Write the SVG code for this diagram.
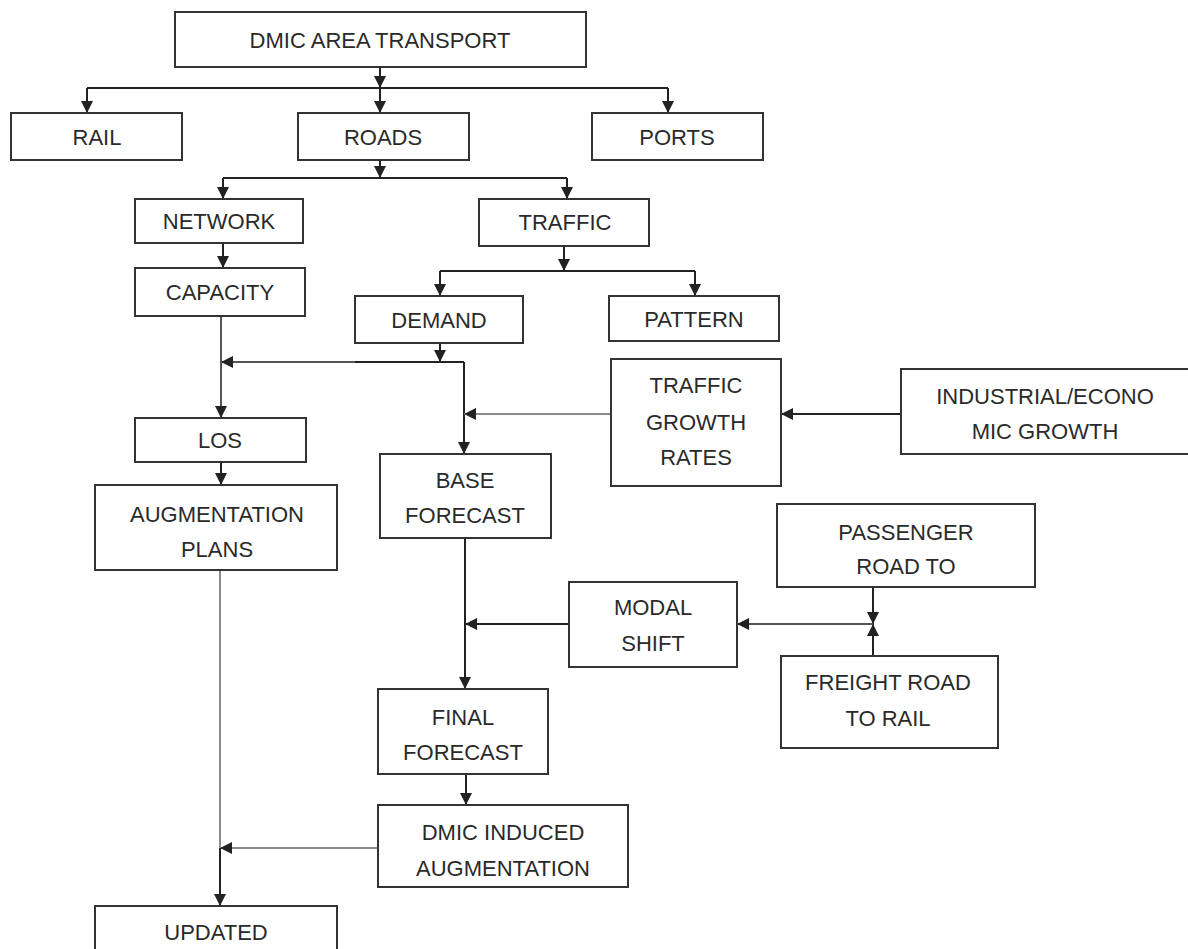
<svg xmlns="http://www.w3.org/2000/svg" width="1188" height="949" viewBox="0 0 1188 949">
<defs>
<marker id="ah" viewBox="0 0 12 12" refX="12" refY="6" markerWidth="12" markerHeight="12" markerUnits="userSpaceOnUse" orient="auto">
<path d="M0,0 L12,6 L0,12 Z" fill="#222"/>
</marker>
</defs>
<style>
.box{fill:#fff;stroke:#333;stroke-width:2}
.t{font-family:"Liberation Sans",Arial,sans-serif;font-size:22px;fill:#2a2a2a;text-anchor:middle}
.c{fill:none;stroke:#222;stroke-width:2}
.g{fill:none;stroke:#8a8a8a;stroke-width:2}
.m{fill:none;stroke:#555;stroke-width:2}
</style>
<rect width="1188" height="949" fill="#fff"/>
<g id="connectors">
<path class="c" d="M380,67 V88" marker-end="url(#ah)"/>
<path class="c" d="M87,88 H668"/>
<path class="c" d="M87,88 V113" marker-end="url(#ah)"/>
<path class="c" d="M380,88 V113" marker-end="url(#ah)"/>
<path class="c" d="M668,88 V113" marker-end="url(#ah)"/>
<path class="c" d="M380,160 V178" marker-end="url(#ah)"/>
<path class="c" d="M223,178 H567"/>
<path class="c" d="M223,178 V199" marker-end="url(#ah)"/>
<path class="c" d="M567,178 V199" marker-end="url(#ah)"/>
<path class="c" d="M223,243 V268" marker-end="url(#ah)"/>
<path class="c" d="M564,246 V271" marker-end="url(#ah)"/>
<path class="c" d="M440,271 H695"/>
<path class="c" d="M440,271 V296" marker-end="url(#ah)"/>
<path class="c" d="M695,271 V296" marker-end="url(#ah)"/>
<path class="m" d="M221,316 V418" marker-end="url(#ah)"/>
<path class="m" d="M355,362 H221" marker-end="url(#ah)"/>
<path class="c" d="M464,362 H355"/>
<path class="c" d="M440,343 V362" marker-end="url(#ah)"/>
<path class="c" d="M464,362 V454" marker-end="url(#ah)"/>
<path class="g" d="M611,414 H464" marker-end="url(#ah)"/>
<path class="c" d="M900,414 H781" marker-end="url(#ah)"/>
<path class="c" d="M221,462 V485" marker-end="url(#ah)"/>
<path class="c" d="M465,538 V689" marker-end="url(#ah)"/>
<path class="c" d="M569,624 H465" marker-end="url(#ah)"/>
<path class="c" d="M873,587 V624" marker-end="url(#ah)"/>
<path class="c" d="M873,656 V624" marker-end="url(#ah)"/>
<path class="m" d="M873,624 H737" marker-end="url(#ah)"/>
<path class="c" d="M466,774 V805" marker-end="url(#ah)"/>
<path class="g" d="M378,848 H220" marker-end="url(#ah)"/>
<path class="g" d="M220,570 V848"/>
<path class="c" d="M220,848 V906" marker-end="url(#ah)"/>
</g>
<g id="dmic"><rect class="box" x="175" y="12" width="411" height="55"/><text class="t" x="380" y="48">DMIC AREA TRANSPORT</text></g>
<g id="rail"><rect class="box" x="11" y="113" width="171" height="47"/><text class="t" x="97" y="145">RAIL</text></g>
<g id="roads"><rect class="box" x="298" y="113" width="171" height="47"/><text class="t" x="383" y="145">ROADS</text></g>
<g id="ports"><rect class="box" x="592" y="113" width="171" height="47"/><text class="t" x="677" y="145">PORTS</text></g>
<g id="network"><rect class="box" x="135" y="199" width="168" height="44"/><text class="t" x="219" y="229">NETWORK</text></g>
<g id="traffic"><rect class="box" x="479" y="199" width="170" height="47"/><text class="t" x="565" y="230">TRAFFIC</text></g>
<g id="capacity"><rect class="box" x="135" y="268" width="170" height="48"/><text class="t" x="220" y="300">CAPACITY</text></g>
<g id="demand"><rect class="box" x="355" y="296" width="168" height="47"/><text class="t" x="439" y="328">DEMAND</text></g>
<g id="pattern"><rect class="box" x="609" y="296" width="170" height="45"/><text class="t" x="694" y="327">PATTERN</text></g>
<g id="tgr"><rect class="box" x="611" y="359" width="170" height="127"/><text class="t" x="696" y="393">TRAFFIC</text><text class="t" x="696" y="430">GROWTH</text><text class="t" x="696" y="465">RATES</text></g>
<g id="industrial"><rect class="box" x="901" y="369" width="300" height="85"/><text class="t" x="1045" y="404">INDUSTRIAL/ECONO</text><text class="t" x="1045" y="439">MIC GROWTH</text></g>
<g id="los"><rect class="box" x="135" y="418" width="171" height="44"/><text class="t" x="220" y="448">LOS</text></g>
<g id="augmentation"><rect class="box" x="95" y="485" width="242" height="85"/><text class="t" x="217" y="522">AUGMENTATION</text><text class="t" x="217" y="557">PLANS</text></g>
<g id="base"><rect class="box" x="380" y="454" width="171" height="84"/><text class="t" x="465" y="488">BASE</text><text class="t" x="465" y="523">FORECAST</text></g>
<g id="passenger"><rect class="box" x="777" y="504" width="258" height="83"/><text class="t" x="906" y="540">PASSENGER</text><text class="t" x="906" y="574">ROAD TO</text></g>
<g id="modal"><rect class="box" x="569" y="582" width="168" height="85"/><text class="t" x="653" y="615">MODAL</text><text class="t" x="653" y="651">SHIFT</text></g>
<g id="freight"><rect class="box" x="781" y="656" width="217" height="92"/><text class="t" x="888" y="690">FREIGHT ROAD</text><text class="t" x="888" y="726">TO RAIL</text></g>
<g id="final"><rect class="box" x="378" y="689" width="170" height="85"/><text class="t" x="463" y="725">FINAL</text><text class="t" x="463" y="760">FORECAST</text></g>
<g id="induced"><rect class="box" x="378" y="805" width="250" height="82"/><text class="t" x="503" y="840">DMIC INDUCED</text><text class="t" x="503" y="876">AUGMENTATION</text></g>
<g id="updated"><rect class="box" x="95" y="906" width="242" height="60"/><text class="t" x="216" y="940">UPDATED</text></g>
</svg>
